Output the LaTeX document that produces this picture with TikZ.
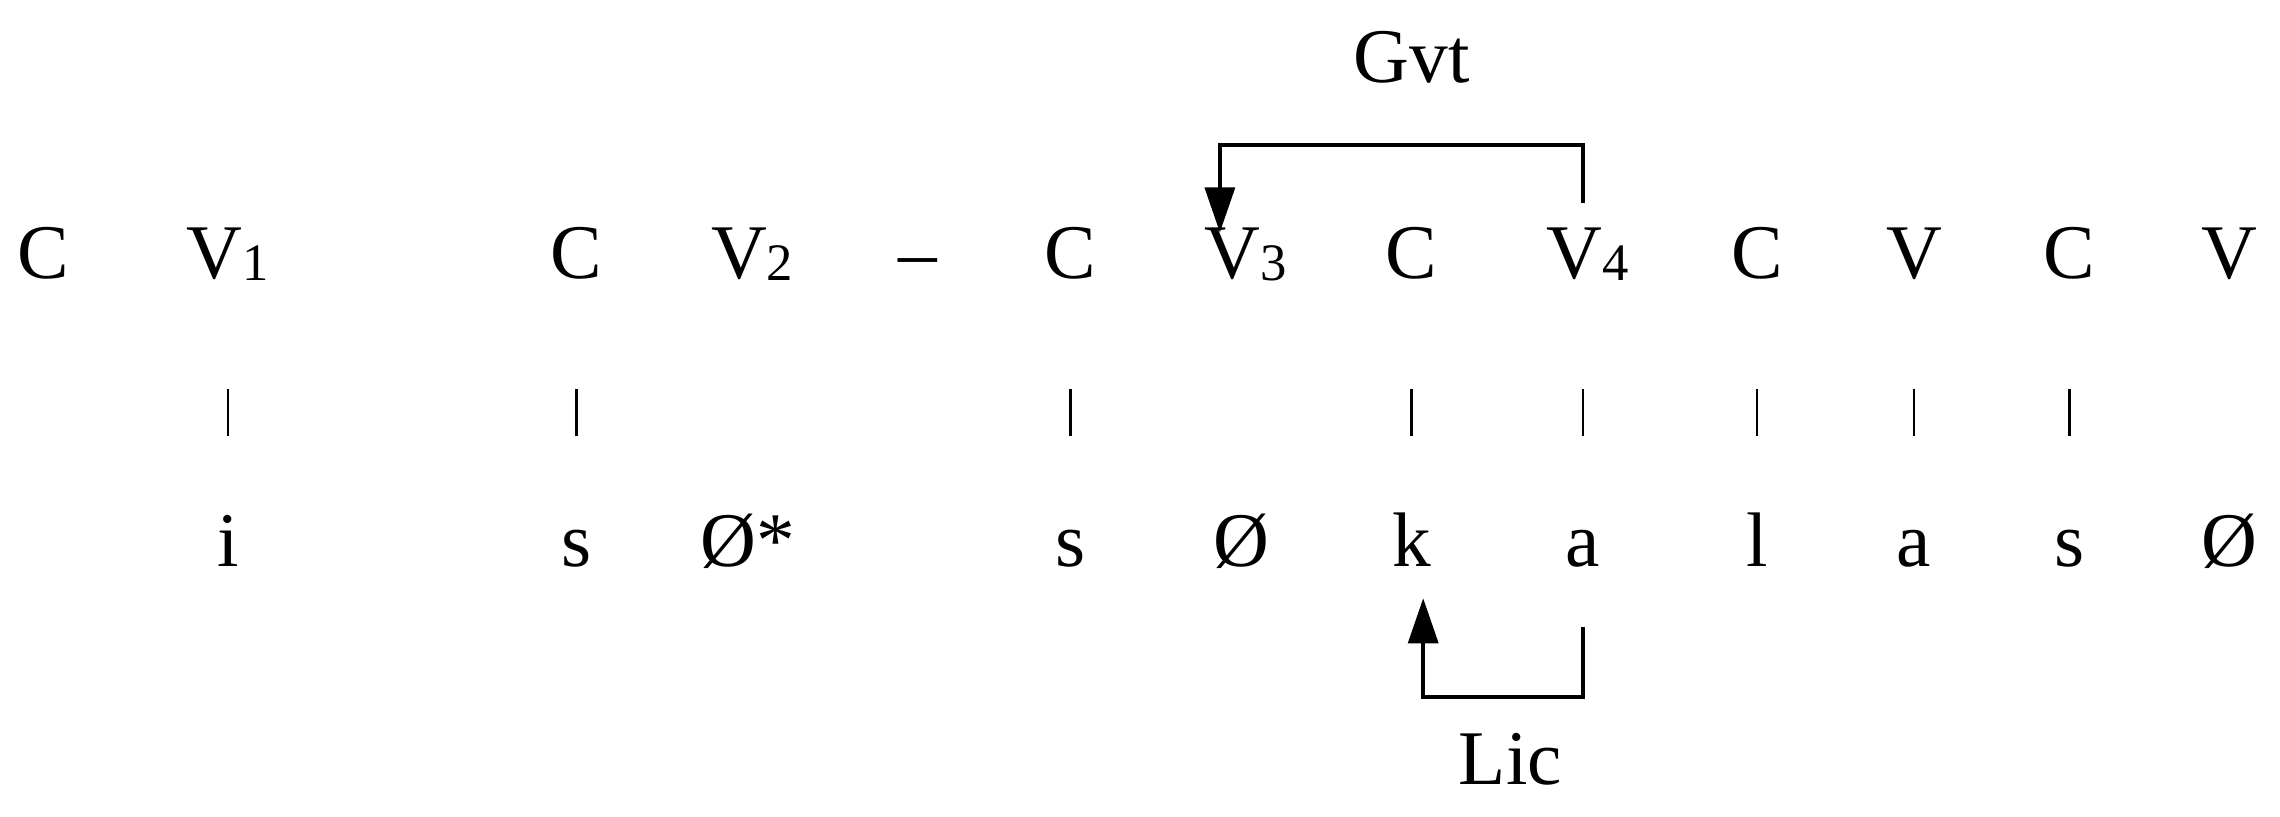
\documentclass[tikz,border=0pt]{standalone}
\usepackage{fontspec}
\setmainfont{Liberation Serif}
\usetikzlibrary{arrows.meta}
\begin{document}
\begin{tikzpicture}[x=0.01452cm,y=-0.01452cm,
  t/.style={font=\fontsize{22}{24}\selectfont, inner sep=0pt, anchor=base},
  tick/.style={line width=0.7pt},
  arr/.style={line width=1pt,-{Triangle[length=0.45cm,width=0.3cm]}},
  ln/.style={line width=1pt}]
\useasboundingbox (0,0) rectangle (1570,562);
\newcommand{\Vs}[1]{V\raisebox{-0.05ex}{\fontsize{15}{16}\selectfont #1}}
% top row
\foreach \n/\x/\s in {c1/30/C, c2/397/C, dash/632/--, c3/737/C, c4/972/C, c5/1210/C, c7/1425/C, v5/1318/V, v6/1535/V}
  \node[t] (\n) at (\x,192) {\s};
\node[t] (v1) at (157,192) {\Vs{1}};
\node[t] (v2) at (518,192) {\Vs{2}};
\node[t] (v3) at (858,192) {\Vs{3}};
\node[t] (v4) at (1093,192) {\Vs{4}};
% bottom row
\foreach \n/\x/\s in {bi/157/i, bs1/397/s, bs2/737/s, bo2/855/\O, bk/972/k, ba1/1090/a, bl/1210/l, ba2/1318/a, bs3/1425/s, bo3/1535/\O}
  \node[t] (\n) at (\x,390) {\s};
\node[t] (bo1) at (515,390) {\O*};
% ticks
\foreach \x in {157,397,737,972,1090,1210,1318,1425}
  \draw[tick] (\x,268) -- (\x,300);
% Gvt
\node[t] (gvt) at (972,57) {Gvt};
\coordinate (g1) at (1090,140);
\coordinate (g2) at (840,160);
\draw[arr] (g1) -- (1090,100) -- (840,100) -- (g2);
% Lic
\node[t] (lic) at (1040,540) {Lic};
\coordinate (l1) at (1090,432);
\coordinate (l2) at (980,412);
\draw[arr] (l1) -- (1090,480) -- (980,480) -- (l2);
\end{tikzpicture}
\end{document}
